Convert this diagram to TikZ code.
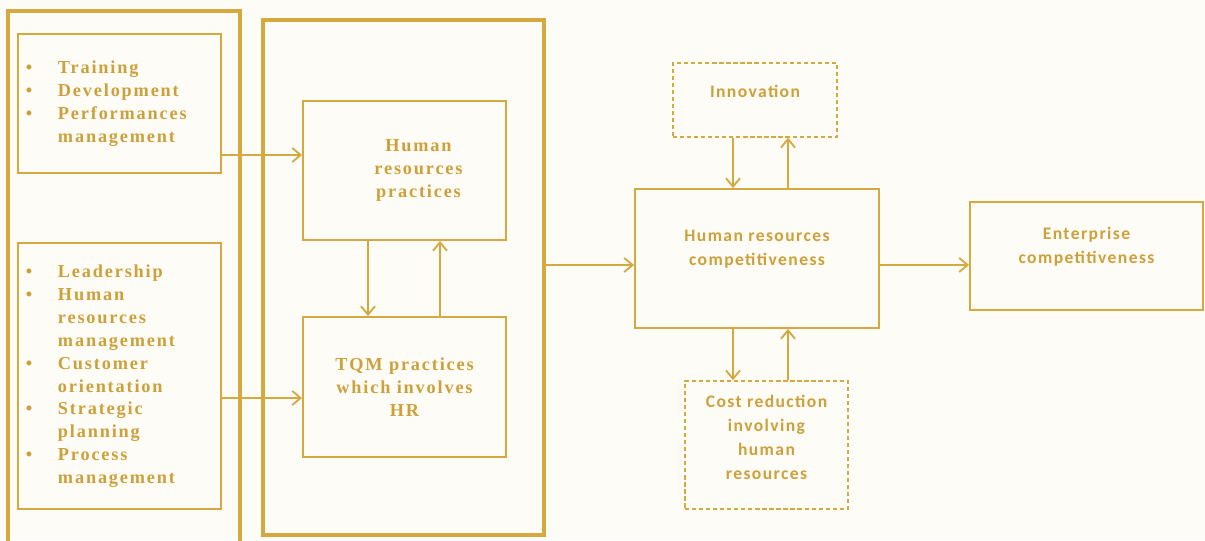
\documentclass[tikz,border=0pt]{standalone}
\usepackage{fontspec}
\setmainfont{Liberation Serif}
\newfontfamily\serfont{Liberation Serif}[LetterSpace=10]
\newfontfamily\calfont{Carlito}[LetterSpace=8]
\usetikzlibrary{arrows.meta}
\definecolor{gold}{RGB}{214,168,64}
\definecolor{goldtext}{RGB}{206,160,58}
\definecolor{paper}{RGB}{253,252,247}
\begin{document}
\begin{tikzpicture}[x=0.025cm,y=-0.025cm,
  frame/.style={draw=gold, line width=2.6pt},
  box/.style={draw=gold, line width=1.3pt, text=goldtext},
  dbox/.style={draw=gold, line width=1pt, dash pattern=on 3pt off 2pt, text=goldtext},
  arr/.style={draw=gold, line width=1.3pt, -{Straight Barb[length=6pt,width=10pt]}},
  ser/.style={font=\serfont\bfseries\fontsize{13}{16.3}\selectfont},
  cal/.style={font=\calfont\bfseries\fontsize{12.5}{17}\selectfont}]
\fill[paper] (0,0) rectangle (1205,540);
\useasboundingbox (0,0) rectangle (1205,540);
\clip (0,0) rectangle (1205,540);
% frames
\node[frame, minimum width=5.8cm, minimum height=13.5cm] (outerL) at (124,281) {};
\node[frame, minimum width=7.025cm, minimum height=12.875cm] (outerM) at (403.5,277.5) {};
% lists
\node[box, ser, text width=4.675cm, inner xsep=0.2cm, minimum height=3.475cm, align=left] (listA) at (119.5,103.5) {%
\begin{tabular}{@{}p{0.8cm}@{}l@{}}
\textbullet & Training\\
\textbullet & Development\\
\textbullet & Performances\\
 & management
\end{tabular}};
\node[box, ser, text width=4.675cm, inner xsep=0.2cm, minimum height=6.65cm, align=left] (listB) at (119.5,376) {%
\begin{tabular}{@{}p{0.8cm}@{}l@{}}
\textbullet & Leadership\\
\textbullet & Human\\
 & resources\\
 & management\\
\textbullet & Customer\\
 & orientation\\
\textbullet & Strategic\\
 & planning\\
\textbullet & Process\\
 & management
\end{tabular}};
% practices
\node[box, ser, minimum width=5.075cm, minimum height=3.475cm, align=center] (hrp) at (404.5,170.5) {\hspace*{0.7cm}Human\\\hspace*{0.7cm}resources\\\hspace*{0.7cm}practices};
\node[box, ser, minimum width=5.075cm, minimum height=3.5cm, align=center] (tqm) at (404.5,387) {TQM practices\\which involves\\HR};
% competitiveness
\node[box, cal, minimum width=6.1cm, minimum height=3.475cm, align=center, text depth=0.52cm] (hrc) at (757,258.5) {Human resources\\competitiveness};
\node[dbox, cal, minimum width=4.1cm, minimum height=1.85cm, align=center, text depth=0.45cm] (innov) at (755,100) {Innovation};
\node[dbox, cal, minimum width=4.075cm, minimum height=3.2cm, align=center, text depth=0.4cm] (cost) at (766.5,445) {Cost reduction\\involving\\human\\resources};
\node[box, cal, minimum width=5.825cm, minimum height=2.7cm, align=center, text depth=0.52cm] (ent) at (1086.5,256) {Enterprise\\competitiveness};
% arrows
\draw[arr] (listA.east |- 0,155) -- (hrp.west |- 0,155);
\draw[arr] (listB.east |- 0,398) -- (tqm.west |- 0,398);
\draw[arr] (hrp.south -| 368,0) -- (tqm.north -| 368,0);
\draw[arr] (tqm.north -| 440,0) -- (hrp.south -| 440,0);
\draw[arr] (outerM.east |- 0,265) -- (hrc.west |- 0,265);
\draw[arr] (hrc.east |- 0,265) -- (ent.west |- 0,265);
\draw[arr] (innov.south -| 733,0) -- (hrc.north -| 733,0);
\draw[arr] (hrc.north -| 788,0) -- (innov.south -| 788,0);
\draw[arr] (hrc.south -| 733,0) -- (cost.north -| 733,0);
\draw[arr] (cost.north -| 788,0) -- (hrc.south -| 788,0);
\end{tikzpicture}
\end{document}
